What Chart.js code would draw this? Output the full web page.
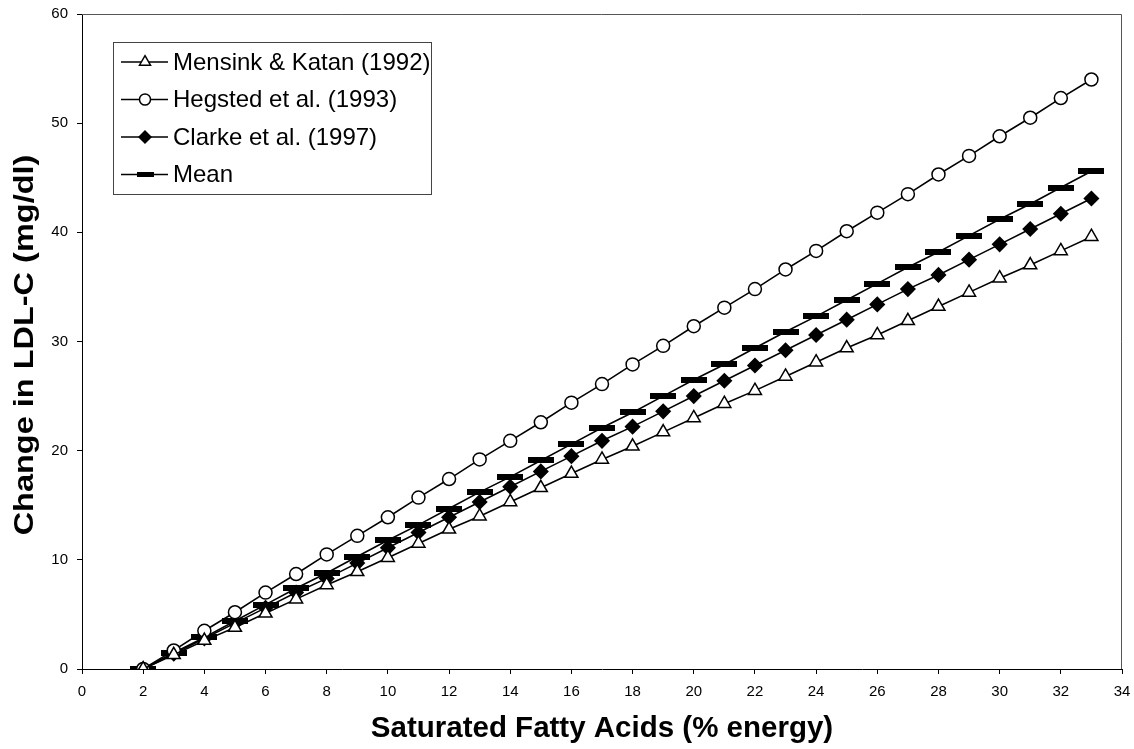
<!DOCTYPE html>
<html>
<head>
<meta charset="utf-8">
<script src="https://cdn.jsdelivr.net/npm/chart.js@4.4.0/dist/chart.umd.min.js"></script>
<style>
  html, body { margin: 0; padding: 0; background: #fff; }
  #wrap { width: 1134px; height: 749px; }
</style>
</head>
<body>
<div id="wrap"><canvas id="ldlChart" width="1134" height="749"></canvas></div>
<script>
// saturated fat intake, % energy
var sfa = [2, 3, 4, 5, 6, 7, 8, 9, 10, 11, 12, 13, 14, 15, 16, 17, 18, 19, 20, 21, 22, 23, 24, 25, 26, 27, 28, 29, 30, 31, 32, 33];

var mensink = [0, 1.3, 2.6, 3.8, 5.1, 6.4, 7.7, 8.9, 10.2, 11.5, 12.8, 14.0, 15.3, 16.6, 17.9, 19.2, 20.4, 21.7, 23.0, 24.3, 25.5, 26.8, 28.1, 29.4, 30.6, 31.9, 33.2, 34.5, 35.8, 37.0, 38.3, 39.6];
var hegsted = [0, 1.7, 3.5, 5.2, 7.0, 8.7, 10.5, 12.2, 13.9, 15.7, 17.4, 19.2, 20.9, 22.6, 24.4, 26.1, 27.9, 29.6, 31.4, 33.1, 34.8, 36.6, 38.3, 40.1, 41.8, 43.5, 45.3, 47.0, 48.8, 50.5, 52.3, 54.0];
var clarke = [0, 1.4, 2.8, 4.2, 5.6, 7.0, 8.3, 9.7, 11.1, 12.5, 13.9, 15.3, 16.7, 18.1, 19.5, 20.9, 22.2, 23.6, 25.0, 26.4, 27.8, 29.2, 30.6, 32.0, 33.4, 34.8, 36.1, 37.5, 38.9, 40.3, 41.7, 43.1];
var meanVals = [0, 1.5, 2.9, 4.4, 5.9, 7.4, 8.8, 10.3, 11.8, 13.2, 14.7, 16.2, 17.6, 19.1, 20.6, 22.1, 23.5, 25.0, 26.5, 27.9, 29.4, 30.9, 32.3, 33.8, 35.3, 36.8, 38.2, 39.7, 41.2, 42.6, 44.1, 45.6];

var seriesNames = ["Mensink & Katan (1992)", "Hegsted et al. (1993)", "Clarke et al. (1997)", "Mean"];
var yTitle = "Change in LDL-C (mg/dl)";

var FONT = "'Liberation Sans', Arial, Helvetica, sans-serif";

function pts(ys) {
	return sfa.map(function (x, i) { return { x: x, y: ys[i] }; });
}

// flat black bar used as the "Mean" marker
function barMarker(w, h) {
	var c = document.createElement("canvas");
	c.width = w; c.height = h;
	var g = c.getContext("2d");
	g.fillStyle = "#000";
	g.fillRect(0, 0, w, h);
	return c;
}
var meanBar = barMarker(26, 6);
var meanBarSmall = barMarker(17, 5);

var frameAndLegend = {
	id: "frameAndLegend",
	afterDraw: function (chart) {
		var ctx = chart.ctx, a = chart.chartArea;
		ctx.save();
		// plot frame
		ctx.strokeStyle = "#555";
		ctx.lineWidth = 1;
		ctx.beginPath();
		ctx.moveTo(a.left, a.top + 0.5);
		ctx.lineTo(a.right - 0.5, a.top + 0.5);
		ctx.lineTo(a.right - 0.5, a.bottom);
		ctx.stroke();

		// y title, a bit stretched like the original
		ctx.save();
		ctx.translate(25, 345);
		ctx.rotate(-Math.PI / 2);
		ctx.scale(1.16, 1);
		ctx.font = "bold 28px " + FONT;
		ctx.textAlign = "center";
		ctx.textBaseline = "middle";
		ctx.fillStyle = "#000";
		ctx.fillText(yTitle, 0, 0);
		ctx.restore();

		// legend box
		var bx = 113.5, by = 42.5, bw = 318, bh = 152;
		ctx.fillStyle = "#fff";
		ctx.fillRect(bx, by, bw, bh);

		ctx.font = "24px " + FONT;
		ctx.textBaseline = "middle";
		chart.data.datasets.forEach(function (ds, i) {
			var y = 62 + i * 37.5;
			ctx.strokeStyle = "#000";
			ctx.lineWidth = 1.5;
			ctx.beginPath();
			ctx.moveTo(121, y);
			ctx.lineTo(168, y);
			ctx.stroke();
			if (ds.pointStyle === meanBar) {
				ctx.drawImage(meanBarSmall, 145 - 8.5, y - 2.5);
			} else {
				ctx.fillStyle = ds.pointBackgroundColor;
				ctx.strokeStyle = "#000";
				ctx.lineWidth = ds.pointBorderWidth;
				Chart.helpers.drawPoint(ctx, {
					pointStyle: ds.pointStyle,
					radius: ds.pointRadius * 0.85,
					borderWidth: ds.pointBorderWidth
				}, 145, y);
			}
			ctx.fillStyle = "#000";
			ctx.fillText(ds.label, 173, y + 1);
		});
		ctx.strokeStyle = "#444";
		ctx.lineWidth = 1;
		ctx.strokeRect(bx, by, bw, bh);
		ctx.restore();
	}
};

function lineSet(label, ys, style, fill, r) {
	return {
		label: label,
		data: pts(ys),
		borderColor: "#000",
		borderWidth: 1.6,
		pointStyle: style,
		pointRadius: r,
		pointHoverRadius: r,
		pointBackgroundColor: fill,
		pointBorderColor: "#000",
		pointBorderWidth: 1.5,
		tension: 0
	};
}

var ctx = document.getElementById("ldlChart");
var ldlChart = new Chart(ctx, {
	type: "line",
	data: {
		datasets: [
			lineSet(seriesNames[0], mensink, "triangle", "#fff", 7.5),
			lineSet(seriesNames[1], hegsted, "circle", "#fff", 6.5),
			lineSet(seriesNames[2], clarke, "rectRot", "#000", 7),
			lineSet(seriesNames[3], meanVals, meanBar, "#000", 6)
		]
	},
	options: {
		responsive: false,
		animation: false,
		layout: { padding: { top: 14, right: 12, left: 0, bottom: 0 } },
		plugins: {
			legend: { display: false },
			tooltip: { enabled: false }
		},
		scales: {
			x: {
				type: "linear",
				min: 0,
				max: 34,
				ticks: { stepSize: 2, color: "#000", padding: 9, font: { family: FONT, size: 15 } },
				grid: { drawOnChartArea: false, drawTicks: true, tickLength: 5, color: "#000" },
				border: { color: "#000", width: 1 },
				title: {
					display: true,
					text: "Saturated Fatty Acids (% energy)",
					color: "#000",
					font: { family: FONT, size: 29.5, weight: "bold" },
					padding: { top: 0, bottom: 2 }
				},
				afterFit: function (s) {
					s.height = 80;
					s.paddingLeft = 0;
					s.paddingRight = 0;
				}
			},
			y: {
				min: 0,
				max: 60,
				ticks: { stepSize: 10, color: "#000", padding: 9, font: { family: FONT, size: 15 } },
				grid: { drawOnChartArea: false, drawTicks: true, tickLength: 5, color: "#000" },
				border: { color: "#000", width: 1 },
				afterFit: function (s) {
					s.width = 82;
					s.paddingTop = 0;
					s.paddingBottom = 0;
				}
			}
		}
	},
	plugins: [frameAndLegend]
});
</script>
</body>
</html>
